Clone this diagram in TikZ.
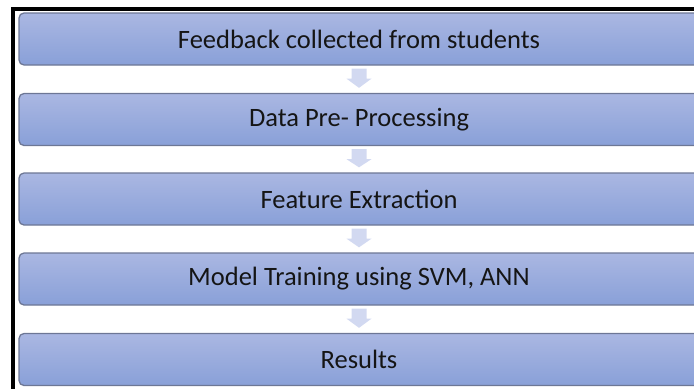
\documentclass[tikz,border=0pt]{standalone}
\usepackage{fontspec}
\setmainfont{Carlito}
\usetikzlibrary{calc}
\definecolor{boxtop}{HTML}{AAB7E2}
\definecolor{boxbot}{HTML}{89A0D8}
\definecolor{boxline}{HTML}{6D7795}
\definecolor{arrowfill}{HTML}{D2D9F1}
\definecolor{labeltext}{HTML}{151515}
\begin{document}
\begin{tikzpicture}[x=1pt,y=1pt,
  stage/.style={draw=boxline, line width=1.3pt, rounded corners=5pt,
    top color=boxtop, bottom color=boxbot,
    minimum width=680pt, minimum height=52pt, inner sep=0pt,
    text=labeltext, font=\fontsize{26.5}{30}\selectfont},
  flowarrow/.style={fill=arrowfill, draw=none}]
\useasboundingbox (0,0) rectangle (694,-389);
\clip (0,0) rectangle (694,-389);
% frame lines along the top and left
\fill[black] (11,-7) rectangle (694,-11);
\fill[black] (11,-7) rectangle (15,-389);
% process stages
\node[stage] (s1) at (359,-39)    {Feedback collected from students};
\node[stage] (s2) at (359,-119.5) {Data Pre- Processing};
\node[stage] (s3) at (359,-199)   {Feature Extraction};
\node[stage] (s4) at (359,-279)   {Model Training using SVM, ANN};
\node[stage] (s5) at (359,-359.5) {Results};
% block arrows between consecutive stages
\foreach \a/\b in {s1/s2, s2/s3, s3/s4, s4/s5}{
  \fill[flowarrow] ($(\a.south)+(-7.5,-3)$) -- ++(15,0) -- ++(0,-10) -- ++(5,0)
    -- ($(\b.north)+(0,5)$) -- ($(\a.south)+(-12.5,-13)$) -- ++(5,0) -- cycle;
}
\end{tikzpicture}
\end{document}
